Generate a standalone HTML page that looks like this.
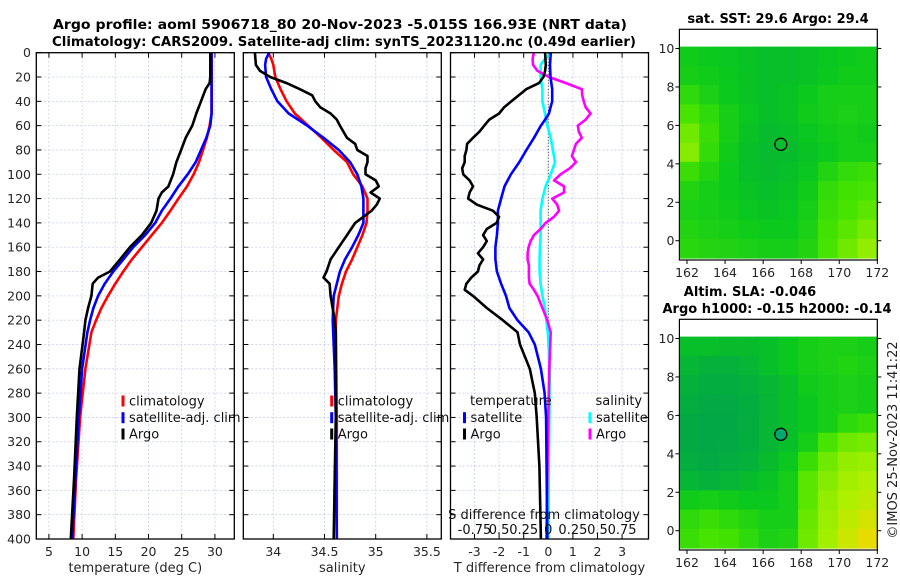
<!DOCTYPE html>
<html><head><meta charset="utf-8"><style>
html,body{margin:0;padding:0;background:#fff}
svg{display:block;font-family:"DejaVu Sans","Liberation Sans",sans-serif}
</style></head><body>
<svg id="fig" width="900" height="580" viewBox="0 0 900 580" xmlns="http://www.w3.org/2000/svg">
<rect width="900" height="580" fill="#fff"/>
<text x="340" y="29" text-anchor="middle" font-weight="bold" font-size="13" textLength="574" lengthAdjust="spacingAndGlyphs">Argo profile: aoml 5906718_80 20-Nov-2023 -5.015S 166.93E (NRT data)</text>
<text x="344" y="46" text-anchor="middle" font-weight="bold" font-size="13" textLength="584" lengthAdjust="spacingAndGlyphs">Climatology: CARS2009. Satellite-adj clim: synTS_20231120.nc (0.49d earlier)</text>
<g id="panels"></g>
<g id="maps"></g>
<text transform="translate(897,440) rotate(-90)" text-anchor="middle" font-size="13" fill="#222">©IMOS 25-Nov-2023 11:41:22</text>
</svg>
<script>
// ---------- data ----------
const depthTicks = [0,20,40,60,80,100,120,140,160,180,200,220,240,260,280,300,320,340,360,380,400];
const tempTicks = [5,10,15,20,25,30];
const salTicks = [34,34.5,35,35.5];
const salTickLabels = ["34","34.5","35","35.5"];
const tdiffTicks = [-3,-2,-1,0,1,2,3];
const sdiffLabels = ["-0.75","0.5","0.25","0","0.25","0.5","0.75"];

const argoTDepth = [0,20,25,30,40,50,60,70,80,90,100,110,115,120,130,140,150,160,170,180,185,190,200,210,220,230,260,300,350,400];
const argoT = [29.3,29.3,29.2,28.6,27.9,27.2,26.6,25.6,24.9,24.2,23.7,23.0,22.0,21.5,21.2,20.4,19.0,17.2,15.7,14.2,12.4,11.6,11.4,10.9,10.5,10.3,9.6,9.2,8.8,8.3];
const climDepth = [0,50,60,70,80,90,100,110,120,130,140,150,160,170,180,190,200,210,220,230,260,300,350,400];
const satT = [29.5,29.5,29.3,28.7,27.9,27.1,25.9,24.5,23.3,22.0,21.0,19.5,17.7,16.2,14.7,13.4,12.4,11.7,11.2,10.8,10.0,9.5,9.0,8.5];
const carsT = [29.5,29.5,29.2,28.8,28.2,27.6,26.8,25.8,24.5,23.3,22.0,20.5,19.0,17.5,16.2,15.0,13.9,12.9,12.1,11.4,10.5,9.7,9.1,8.67];

const argoSDepth = [0,10,15,20,25,30,35,40,45,50,55,60,70,75,80,85,90,95,100,105,110,115,120,125,130,135,140,150,160,170,180,185,190,200,220,230,260,300,350,400];
const argoS = [33.82,33.83,33.87,33.97,34.13,34.26,34.38,34.41,34.46,34.56,34.62,34.65,34.72,34.80,34.82,34.92,34.92,34.90,34.90,35.00,35.03,34.95,35.04,35.01,34.96,34.88,34.80,34.72,34.64,34.56,34.52,34.49,34.55,34.56,34.60,34.61,34.61,34.61,34.60,34.59];
const salDepth = [0,5,10,20,30,40,50,60,70,80,90,100,110,120,130,140,150,160,170,180,190,200,210,220,230,260,300,350,400];
const satS = [33.96,33.93,33.92,33.93,33.98,34.04,34.15,34.33,34.49,34.64,34.75,34.82,34.86,34.88,34.88,34.88,34.83,34.77,34.70,34.65,34.62,34.59,34.585,34.58,34.585,34.60,34.61,34.615,34.62];
const carsS = [33.95,33.98,34.00,34.02,34.07,34.13,34.21,34.34,34.47,34.59,34.72,34.78,34.87,34.92,34.92,34.91,34.87,34.82,34.77,34.71,34.67,34.64,34.625,34.61,34.61,34.615,34.62,34.62,34.62];

const dTArgoDepth = [0,10,15,20,25,30,35,40,45,50,55,60,65,70,75,80,85,90,95,100,105,110,115,120,125,130,135,140,145,150,155,160,165,170,175,180,185,190,195,200,210,220,230,240,260,280,300,340,400];
const dTArgo = [-0.13,-0.1,-0.13,-0.2,-0.38,-0.9,-1.2,-1.5,-1.8,-2.0,-2.4,-2.6,-2.8,-3.06,-3.3,-3.33,-3.4,-3.4,-3.5,-3.46,-3.2,-3.06,-3.2,-3.26,-2.9,-2.25,-2.0,-2.1,-2.5,-2.65,-2.5,-2.65,-2.86,-2.65,-2.8,-2.86,-3.13,-3.33,-3.4,-3.06,-2.5,-1.85,-1.25,-1.15,-0.75,-0.55,-0.47,-0.36,-0.3];
const dTSatDepth = [0,10,20,30,40,45,50,55,60,70,80,90,100,110,120,130,140,150,160,170,180,190,200,210,220,230,240,260,280,300,400];
const dTSat = [0.1,0.07,0.09,0.16,0.16,0.09,0.03,-0.13,-0.3,-0.58,-0.89,-1.18,-1.52,-1.78,-1.92,-2.05,-2.05,-2.09,-2.15,-2.15,-2.09,-1.92,-1.72,-1.58,-1.25,-0.8,-0.55,-0.3,-0.15,-0.09,-0.04];
const dSSatDepth = [0,5,10,20,30,40,50,60,70,80,90,100,110,120,130,140,150,160,170,180,190,200,210,220,230,260,300,400];
const dSSat = [0.034,-0.034,-0.078,-0.078,-0.06,-0.06,-0.034,-0.01,0.024,0.047,0.068,0.024,-0.027,-0.06,-0.078,-0.078,-0.078,-0.085,-0.088,-0.088,-0.078,-0.06,-0.034,-0.02,-0.005,0.015,0.01,0.0];
const dSArgoDepth = [0,5,10,15,20,25,30,35,40,45,50,55,60,65,70,75,80,85,90,95,100,105,110,115,120,125,130,135,140,145,150,155,160,165,170,175,180,185,190,195,200,210,220,230,260,300,350,400];
const dSArgo = [-0.146,-0.16,-0.155,-0.11,0.007,0.18,0.34,0.345,0.36,0.38,0.43,0.38,0.3,0.31,0.34,0.28,0.26,0.24,0.28,0.22,0.125,0.058,0.16,0.16,0.04,0.09,0.11,0.058,-0.027,-0.078,-0.146,-0.18,-0.2,-0.21,-0.21,-0.197,-0.197,-0.197,-0.19,-0.146,-0.11,-0.06,-0.01,0.024,0.01,0.0,-0.01,-0.02];

const mapLonTicks = [162,164,166,168,170,172];
const mapLatTicks = [0,2,4,6,8,10];
const sstGrid = [
 [.28,.26,.24,.22,.2,.2,.22,.24,.26,.28],
 [.3,.28,.25,.22,.2,.2,.22,.25,.28,.28],
 [.4,.32,.26,.22,.2,.22,.26,.3,.3,.3],
 [.5,.4,.3,.24,.2,.22,.28,.3,.32,.3],
 [.6,.45,.3,.22,.18,.2,.24,.28,.3,.28],
 [.65,.42,.28,.2,.17,.18,.22,.26,.3,.3],
 [.45,.35,.26,.2,.18,.2,.24,.35,.42,.45],
 [.35,.3,.26,.22,.2,.22,.28,.42,.48,.5],
 [.32,.3,.28,.24,.22,.24,.3,.45,.5,.55],
 [.35,.32,.3,.28,.26,.26,.32,.48,.55,.62],
 [.38,.36,.34,.32,.3,.3,.35,.5,.6,.68]];
const slaGrid = [
 [.2,.2,.18,.18,.2,.25,.3,.32,.32,.3],
 [.15,.12,.12,.15,.2,.25,.3,.32,.35,.32],
 [.12,.1,.1,.12,.15,.2,.28,.3,.32,.3],
 [.1,.08,.08,.1,.14,.2,.25,.3,.32,.3],
 [.08,.07,.07,.1,.15,.2,.25,.3,.4,.45],
 [.08,.07,.08,.1,.15,.2,.3,.5,.6,.62],
 [.1,.08,.1,.12,.18,.25,.45,.6,.68,.7],
 [.15,.12,.14,.18,.22,.3,.55,.65,.72,.75],
 [.28,.3,.28,.25,.25,.3,.55,.68,.75,.8],
 [.4,.45,.4,.35,.3,.3,.58,.7,.8,.88],
 [.45,.5,.48,.4,.32,.35,.6,.72,.85,.95]];
const floatLon = 166.93;
const floatLat = 5.015;

// ---------- helpers ----------
const NS = "http://www.w3.org/2000/svg";
function mk(tag, attrs, parent){ const e=document.createElementNS(NS,tag); for(const k in attrs) e.setAttribute(k,attrs[k]); parent.appendChild(e); return e; }
const TOP=52.7, BOT=539;
const yD = d => TOP + d*(BOT-TOP)/400;
const xT = t => 36.3 + (t-3.1)*6.64;
const xS = s => 273.3 + (s-34)*102.4;
const xdT = d => 548.3 + d*24.6;
const xdS = d => 548.3 + d*98.4;
const panels = document.getElementById('panels');

function panelFrame(name, x0, x1, xticks, xfun, labels, xlabel, ylabels){
  const g = mk('g',{},panels);
  
  
  for(const d of depthTicks){ const y=yD(d);
    const gl=mk('line',{x1:x0,x2:x1,y1:y,y2:y,stroke:'#c5cde8','stroke-width':0.8,'stroke-dasharray':'2,2'},g);
     
    mk('line',{x1:x0,x2:x0+5,y1:y,y2:y,stroke:'#000','stroke-width':1},g);
    mk('line',{x1:x1-5,x2:x1,y1:y,y2:y,stroke:'#000','stroke-width':1},g);
    if(ylabels){ const t=mk('text',{x:31,y:y+4.5,'text-anchor':'end','font-size':12.5,fill:'#262626'},g); t.textContent=d;
        }
  }
  xticks.forEach((v,i)=>{ const x=xfun(v);
    const gl=mk('line',{x1:x,x2:x,y1:TOP,y2:BOT,stroke:'#c5cde8','stroke-width':0.8,'stroke-dasharray':'2,2'},g);
     
    mk('line',{x1:x,x2:x,y1:BOT-5,y2:BOT,stroke:'#000','stroke-width':1},g);
    mk('line',{x1:x,x2:x,y1:TOP,y2:TOP+5,stroke:'#000','stroke-width':1},g);
    const t=mk('text',{x:x,y:556,'text-anchor':'middle','font-size':12.5,fill:'#262626'},g); t.textContent=labels[i];
     
  });
  const xl=mk('text',{x:(x0+x1)/2,y:572,'text-anchor':'middle','font-size':13,fill:'#262626'},g); xl.textContent=xlabel;
   
  return g;
}
function frameBox(g,x0,x1){ const r=mk('rect',{x:x0,y:TOP,width:x1-x0,height:BOT-TOP,fill:'none',stroke:'#000','stroke-width':1.3},g);
    }
function series(g, depths, vals, xfun, color, name){
  const pts = depths.map((d,i)=>xfun(vals[i]).toFixed(1)+','+yD(d).toFixed(1)).join(' ');
  const p = mk('polyline',{points:pts,fill:'none',stroke:color,'stroke-width':2.6,'stroke-linejoin':'round'},g);
  
  
}
function legend(g, x, y, color, label, name){
  mk('rect',{x:x-1.5,y:y-5.5,width:3,height:11,fill:color},g);
  const t=mk('text',{x:x+6,y:y+4.5,'font-size':13,fill:'#111'},g); t.textContent=label;
  
  
}

// Panel 1
const g1 = panelFrame('temperature-panel',36.3,234.3,tempTicks,xT,tempTicks.map(String),'temperature (deg C)',true);
series(g1, climDepth, carsT, xT, '#ff0000','cars-temperature-line');
series(g1, climDepth, satT, xT, '#0000ff','satellite-temperature-line');
series(g1, argoTDepth, argoT, xT, '#000000','argo-temperature-line');
legend(g1,123,401,'#ff0000','climatology','legend-climatology');
legend(g1,123,417.7,'#0000ff','satellite-adj. clim','legend-satellite');
legend(g1,123,434,'#000000','Argo','legend-argo');
frameBox(g1,36.3,234.3);

// Panel 2
const g2 = panelFrame('salinity-panel',243.3,441.3,salTicks,xS,salTickLabels,'salinity',false);
series(g2, salDepth, carsS, xS, '#ff0000','cars-salinity-line');
series(g2, salDepth, satS, xS, '#0000ff','satellite-salinity-line');
series(g2, argoSDepth, argoS, xS, '#000000','argo-salinity-line');
frameBox(g2,243.3,441.3);

// Panel 3
const g3 = panelFrame('difference-panel',450.5,648.5,tdiffTicks,xdT,tdiffTicks.map(String),'T difference from climatology',false);
mk('line',{x1:xdT(0),x2:xdT(0),y1:TOP,y2:BOT,stroke:'#333','stroke-width':1,'stroke-dasharray':'1,2'},g3);
series(g3, dSSatDepth, dSSat, xdS, '#00ffff','satellite-salinity-diff-line');
series(g3, dSArgoDepth, dSArgo, xdS, '#ff00ff','argo-salinity-diff-line');
series(g3, dTSatDepth, dTSat, xdT, '#0000ff','satellite-temperature-diff-line');
series(g3, dTArgoDepth, dTArgo, xdT, '#000000','argo-temperature-diff-line');
frameBox(g3,450.5,648.5);
// legend 2 (in panel 2, after frame so text overlaps)
legend(g2,331.7,401,'#ff0000','climatology','legend2-climatology');
legend(g2,331.7,417.7,'#0000ff','satellite-adj. clim','legend2-satellite');
legend(g2,331.7,434,'#000000','Argo','legend2-argo');
{ const t=mk('text',{x:470,y:405,'font-size':13,fill:'#111'},g3); t.textContent='temperature';
   
  const s=mk('text',{x:595.5,y:405,'font-size':13,fill:'#111'},g3); s.textContent='salinity';
    }
legend(g3,464.5,417.7,'#0000ff','satellite','legend-t-satellite');
legend(g3,464.5,434,'#000000','Argo','legend-t-argo');
legend(g3,590,417.7,'#00ffff','satellite','legend-s-satellite');
legend(g3,590,434,'#ff00ff','Argo','legend-s-argo');
{ const t=mk('text',{x:544,y:519,'text-anchor':'middle','font-size':13,fill:'#111'},g3); t.textContent='S difference from climatology';
   
  const sdVals=[-0.75,-0.5,-0.25,0,0.25,0.5,0.75];
  sdVals.forEach((v,i)=>{ const l=mk('text',{x:xdS(v),y:534,'text-anchor':'middle','font-size':13,fill:'#111'},g3); l.textContent=sdiffLabels[i];
      });
}

// ---------- maps ----------
const maps = document.getElementById('maps');
function cmap(v){
  const stops=[[0,[0,155,85]],[0.25,[10,200,30]],[0.5,[70,228,0]],[0.75,[175,240,0]],[1,[245,215,0]]];
  for(let i=1;i<stops.length;i++){ if(v<=stops[i][0]){ const a=stops[i-1],b=stops[i]; const f=(v-a[0])/(b[0]-a[0]);
    return 'rgb('+a[1].map((c,k)=>Math.round(c+(b[1][k]-c)*f)).join(',')+')'; } }
  return 'rgb(245,215,0)';
}
function drawMap(name, top, grid, titleLines, filledCircle){
  const X0=679.4, X1=877.3, B=top+230.7;
  const xL = lon => X0 + (lon-161.6)*19.03;
  const yL = lat => top + (11-lat)*19.22;
  const g = mk('g',{},maps);
  
  
  const rows=grid.length, cols=grid[0].length;
  const lat0=10.1, lat1=-0.9, dLat=(lat0-lat1)/rows, dLon=(172-161.6)/cols;
  for(let r=0;r<rows;r++) for(let c=0;c<cols;c++){
    const x=xL(161.6+c*dLon), y=yL(lat0-r*dLat);
    const cell=mk('rect',{x:x.toFixed(1),y:y.toFixed(1),width:(dLon*19.03+0.6).toFixed(1),height:(dLat*19.22+0.6).toFixed(1),fill:cmap(grid[r][c])},g);
    
    
  }
  const cx=xL(floatLon), cy=yL(floatLat);
  const circ=mk('circle',{cx:cx,cy:cy,r:6,fill:filledCircle?'#00a870':'none',stroke:'#000','stroke-width':1.3},g);
   
  const box=mk('rect',{x:X0,y:top,width:X1-X0,height:B-top,fill:'none',stroke:'#000','stroke-width':1.2},g);
   
  mapLonTicks.forEach(v=>{ const x=xL(v);
    mk('line',{x1:x,x2:x,y1:B,y2:B+4,stroke:'#000'},g);
    const t=mk('text',{x:x,y:B+17,'text-anchor':'middle','font-size':12.5,fill:'#262626'},g); t.textContent=v;
      });
  mapLatTicks.forEach(v=>{ const y=yL(v);
    mk('line',{x1:X0-4,x2:X0,y1:y,y2:y,stroke:'#000'},g);
    mk('line',{x1:X1,x2:X1+4,y1:y,y2:y,stroke:'#000'},g);
    const t=mk('text',{x:X0-5,y:y+4.5,'text-anchor':'end','font-size':12.5,fill:'#262626'},g); t.textContent=v;
      });
  titleLines.forEach(tl=>{ const t=mk('text',{x:tl[0],y:tl[1],'text-anchor':'middle','font-size':13,'font-weight':'bold'},g); t.textContent=tl[2];
      });
}
drawMap('sst-map',29.3,sstGrid,[[778,23,'sat. SST: 29.6 Argo: 29.4']],false);
drawMap('sla-map',319.3,slaGrid,[[750,296,'Altim. SLA: -0.046'],[777,313,'Argo h1000: -0.15 h2000: -0.14']],true);
</script>
</body></html>
